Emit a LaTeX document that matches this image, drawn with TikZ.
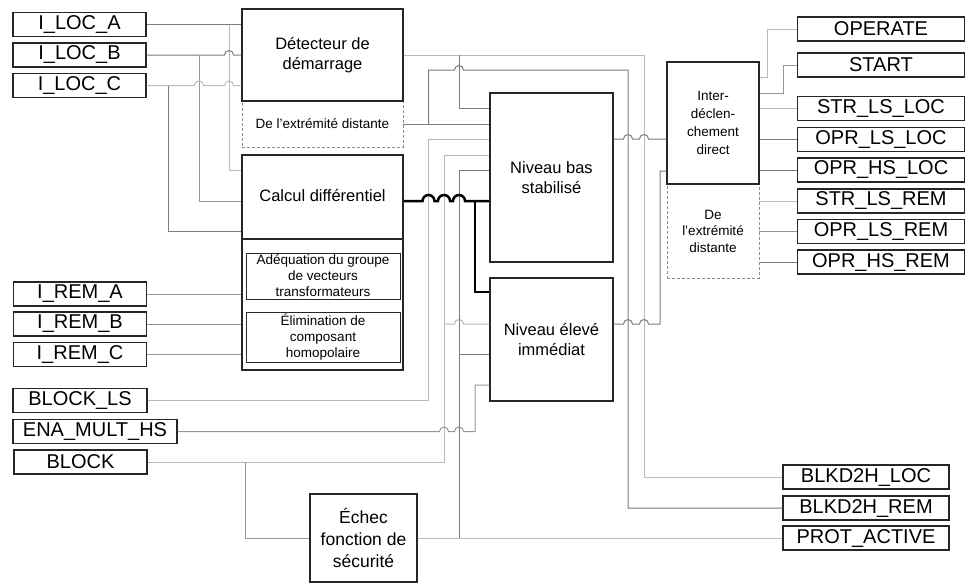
\documentclass[tikz,border=0pt]{standalone}
\usepackage{fontspec}
\setmainfont{Liberation Sans}
\definecolor{wiredark}{RGB}{125,125,125}
\definecolor{wiremid}{RGB}{150,150,150}
\definecolor{wirelight}{RGB}{185,185,185}
\newcommand{\wirehop}[1]{-- ([xshift=-4.5pt]#1) arc[start angle=180,end angle=0,radius=4.5pt]}
\newcommand{\bighop}[1]{-- ([xshift=-6pt]#1) arc[start angle=180,end angle=0,radius=6pt]}

\begin{document}
\begin{tikzpicture}[x=1pt,y=-1pt,
  port/.style={draw=black!85,line width=1.2pt,minimum height=24pt,inner sep=0pt,font=\fontsize{20}{24}\selectfont},
  block/.style={draw=black!85,line width=1.3pt,inner sep=0pt,align=center,font=\fontsize{16.5}{20.5}\selectfont},
  remote/.style={draw=gray!90,line width=0.8pt,dash pattern=on 3pt off 2pt,inner sep=0pt,align=center,font=\fontsize{13.5}{16.5}\selectfont},
  inner/.style={draw=black!85,line width=1pt,inner sep=0pt,align=center,font=\fontsize{13.5}{16}\selectfont},
  thickwire/.style={black,line width=2.5pt},
  every path/.append style={line width=1pt}]
\useasboundingbox (0,0) rectangle (966,584);

\node[port,minimum width=133pt] (ilocA) at (79.5,24.5) {I\_LOC\_A};
\node[port,minimum width=133pt] (ilocB) at (79.5,55) {I\_LOC\_B};
\node[port,minimum width=133pt] (ilocC) at (79.5,85.5) {I\_LOC\_C};
\node[port,minimum width=133pt] (iremA) at (80,294) {I\_REM\_A};
\node[port,minimum width=133pt] (iremB) at (80,324) {I\_REM\_B};
\node[port,minimum width=133pt] (iremC) at (80,354.5) {I\_REM\_C};
\node[port,minimum width=134pt] (blockls) at (80,400.5) {BLOCK\_LS};
\node[port,minimum width=164pt] (enamult) at (95,431.5) {ENA\_MULT\_HS};
\node[port,minimum width=133pt] (block) at (80.5,462) {BLOCK};

\node[port,minimum width=167pt] (operate) at (881,29) {OPERATE};
\node[port,minimum width=167pt] (start) at (881,65) {START};
\node[port,minimum width=167pt] (strlsloc) at (881,108.5) {STR\_LS\_LOC};
\node[port,minimum width=167pt] (oprlsloc) at (881,139.5) {OPR\_LS\_LOC};
\node[port,minimum width=167pt] (oprhsloc) at (881,170) {OPR\_HS\_LOC};
\node[port,minimum width=167pt] (strlsrem) at (881,201) {STR\_LS\_REM};
\node[port,minimum width=167pt] (oprlsrem) at (881,231.5) {OPR\_LS\_REM};
\node[port,minimum width=167pt] (oprhsrem) at (881,262) {OPR\_HS\_REM};
\node[port,minimum width=166pt] (blkloc) at (866,477) {BLKD2H\_LOC};
\node[port,minimum width=166pt] (blkrem) at (866,508) {BLKD2H\_REM};
\node[port,minimum width=166pt] (protact) at (866,538) {PROT\_ACTIVE};

\node[remote,minimum width=161pt,minimum height=46pt] (detrem) at (322.5,124) {De l’extrémité distante};
\node[remote,minimum width=92pt,minimum height=94pt] (iddrem) at (713,231) {De\\l’extrémité\\distante};

\node[block,minimum width=161pt,minimum height=92pt] (det) at (322.5,55) {Détecteur de\\démarrage};
\node[block,minimum width=161pt,minimum height=215pt] (calc) at (322.5,262.5) {};
\node[block,draw=none] (calctxt) at (322.5,196) {Calcul différentiel};
\draw[block] (calc.west |- 0,239) -- (calc.east |- 0,239);
\node[inner,minimum width=154pt,minimum height=46pt] (adeq) at (323,276) {Adéquation du groupe\\de vecteurs\\transformateurs};
\node[inner,minimum width=154pt,minimum height=50pt] (elim) at (323,337) {Élimination de\\composant\\homopolaire};
\node[block,minimum width=123pt,minimum height=169pt] (nbs) at (551.5,177.5) {Niveau bas\\stabilisé};
\node[block,minimum width=123pt,minimum height=123pt] (nei) at (551.5,339.5) {Niveau élevé\\immédiat};
\node[block,minimum width=92pt,minimum height=122pt,font=\fontsize{13.5}{18}\selectfont] (idd) at (713,123) {Inter-\\déclen-\\chement\\direct};
\node[block,minimum width=107pt,minimum height=88pt,font=\fontsize{17.5}{22}\selectfont] (echec) at (363.5,538) {Échec\\fonction de\\sécurité};

\coordinate (busC) at (168,0);
\coordinate (busB) at (199,0);
\coordinate (busA) at (229,0);
\coordinate (busJ) at (245,0);
\coordinate (busD) at (428.5,0);
\coordinate (busH) at (444,0);
\coordinate (busE) at (459,0);
\coordinate (busK) at (475,0);
\coordinate (busG) at (628,0);
\coordinate (busF) at (644,0);
\coordinate (busL) at (660,0);

\draw[wiredark] (ilocA.east) -- (ilocA.east -| det.west);
\draw[wirelight] (busA |- ilocA.east) |- (calc.west |- 0,170);
\draw[wiredark] (ilocB.east) \wirehop{busA |- ilocB.east} -- (ilocB.east -| det.west);
\draw[wiremid] (busB |- ilocB.east) |- (calc.west |- 0,201);
\draw[wirelight] (ilocC.east) \wirehop{busB |- ilocC.east} \wirehop{busA |- ilocC.east} -- (ilocC.east -| det.west);
\draw[wiredark] (busC |- ilocC.east) |- (calc.west |- 0,231);

\draw[wiremid] (iremA.east) -- (iremA.east -| calc.west);
\draw[wiremid] (iremB.east) -- (iremB.east -| calc.west);
\draw[wiremid] (iremC.east) -- (iremC.east -| calc.west);

\draw[wirelight] (det.east) -- (busF |- det.east) |- (blkloc.west);
\draw[wiredark] (busE |- det.east) |- (nbs.west |- 0,108);
\draw[wiredark] (detrem.east) -- (detrem.east -| nbs.west);
\draw[wiredark] (busD |- detrem.east) -- (busD |- 0,70) \wirehop{busE |- 0,70} -- (busG |- 0,70) |- (blkrem.west);

\draw[wirelight] (blockls.east) -| (busD |- 0,139) -- (nbs.west |- 0,139);
\draw[wirelight] (block.east) -| (busH |- 0,155) -- (nbs.west |- 0,155);
\draw[wirelight] (busH |- 0,324) \wirehop{busE |- 0,324} -- (nei.west |- 0,324);
\draw[wiremid] (busJ |- block.east) |- (echec.west);
\draw[wiremid] (enamult.east) \wirehop{busH |- enamult.east} \wirehop{busE |- enamult.east} -| (busK |- 0,385) -- (nei.west |- 0,385);

\draw[wirelight] (echec.east) -- (protact.west);
\draw[wiredark] (busE |- echec.east) -- (busE |- 0,170) -- (nbs.west |- 0,170);
\draw[wiredark] (busE |- 0,354) -- (nei.west |- 0,354);

\draw[thickwire] (calc.east |- 0,201) \bighop{busD |- 0,201} \bighop{busH |- 0,201} \bighop{busE |- 0,201} -- (nbs.west |- 0,201);
\draw[thickwire] (busK |- 0,201) |- (nei.west |- 0,292);

\draw[wiredark] (nbs.east |- 0,139) \wirehop{busG |- 0,139} \wirehop{busF |- 0,139} -- (idd.west |- 0,139);
\draw[wiredark] (nei.east |- 0,324) \wirehop{busG |- 0,324} \wirehop{busF |- 0,324} -| (busL |- 0,171) -- (idd.west |- 0,171);

\draw[wirelight] (idd.east |- 0,77) -- ++(8,0) |- (operate.west);
\draw[wiremid] (idd.east |- 0,93) -- ++(24,0) |- (start.west);
\draw[wirelight] (idd.east |- strlsloc.west) -- (strlsloc.west);
\draw[wiredark] (idd.east |- oprlsloc.west) -- (oprlsloc.west);
\draw[wiredark] (idd.east |- oprhsloc.west) -- (oprhsloc.west);
\draw[wirelight] (iddrem.east |- strlsrem.west) -- (strlsrem.west);
\draw[wiremid] (iddrem.east |- oprlsrem.west) -- (oprlsrem.west);
\draw[wiredark] (iddrem.east |- oprhsrem.west) -- (oprhsrem.west);
\end{tikzpicture}
\end{document}
